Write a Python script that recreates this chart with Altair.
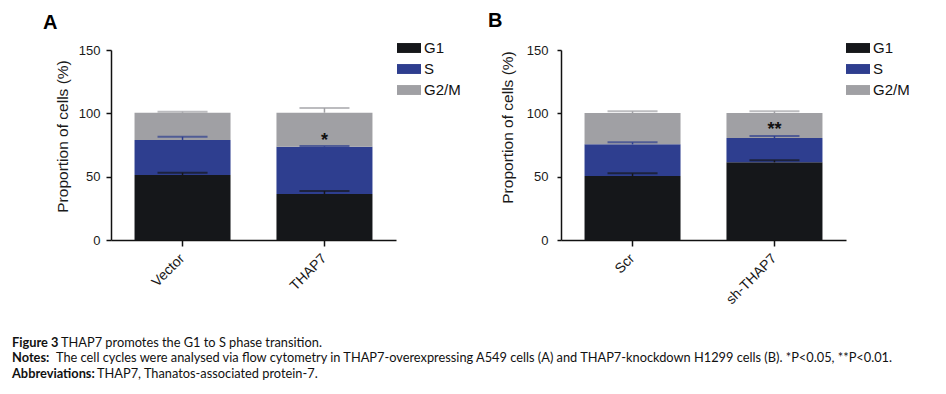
import altair as alt
import pandas as pd

# ---------------- data ----------------
phases = ["G1", "S", "G2/M"]
phase_colors = ["#15171a", "#2e3e8f", "#a0a0a4"]

groups_A = ["Vector", "THAP7"]
g1_A = [51.3, 36.3]
s_A = [27.7, 37.4]
g2m_A = [21.5, 26.8]
err_g1_A = [1.8, 2.4]
err_s_A = [2.5, 0.5]
err_g2m_A = [0.8, 3.7]
star_A = ["", "*"]
star_y_A = [None, 74]

groups_B = ["Scr", "sh-THAP7"]
g1_B = [50.5, 61.3]
s_B = [25.0, 19.2]
g2m_B = [24.7, 19.7]
err_g1_B = [2.1, 1.6]
err_s_B = [1.6, 1.6]
err_g2m_B = [1.4, 1.4]
star_B = ["", "**"]
star_y_B = [None, 83]

y_ticks = [0, 50, 100, 150]
y_title = "Proportion of cells (%)"

caption_bold = ["Figure 3", "Notes:", "Abbreviations:"]
caption_rest = [
    "THAP7 promotes the G1  to S phase transition.",
    "The cell cycles were analysed via flow cytometry in THAP7-overexpressing A549 cells (A) and THAP7-knockdown H1299 cells (B). *P<0.05, **P<0.01.",
    "THAP7, Thanatos-associated protein-7.",
]

FONT = "Liberation Sans"
CAPFONT = "Lato"
W, H = 285, 190


def build_df(groups, g1, s, g2m, e1, es, e2):
    rows = []
    for i, g in enumerate(groups):
        base = 0.0
        for ph, vals, errs in zip(phases, [g1, s, g2m], [e1, es, e2]):
            v = vals[i]
            rows.append({"group": g, "phase": ph, "start": base, "end": base + v,
                         "top": base + v + errs[i], "order": phases.index(ph)})
            base += v
    return pd.DataFrame(rows)


def panel(groups, g1, s, g2m, e1, es, e2, stars, star_ys, letter,
          letter_x, letter_y, legend_x, title_x, title_y, tick_size, label_pad,
          with_caption=False):
    df = build_df(groups, g1, s, g2m, e1, es, e2)
    xenc = alt.X("group:N", sort=groups, title=None,
                 scale=alt.Scale(paddingInner=0.324, paddingOuter=0.166),
                 axis=alt.Axis(labelAngle=-45, labelAlign="right", labelBaseline="middle",
                               labelFontSize=14, labelFont=FONT, labelColor="#1a1a1a",
                               labelPadding=10, tickSize=6, tickWidth=1.5, tickColor="#111",
                               domainColor="#111", domainWidth=1.5, grid=False))
    color_scale = alt.Scale(domain=phases, range=phase_colors)
    bars = alt.Chart(df).mark_bar(size=96).encode(
        x=xenc,
        y=alt.Y("start:Q", scale=alt.Scale(domain=[0, 150], nice=False),
                axis=alt.Axis(values=y_ticks, title=y_title, titleFont=FONT,
                              titleFontSize=15.5, titleFontWeight="normal", titleColor="#1a1a1a",
                              titleX=title_x, titleY=title_y, titleAngle=270,
                              titleBaseline="bottom", titleAlign="center",
                              labelFontSize=13, labelFont=FONT, labelColor="#1a1a1a",
                              labelPadding=label_pad, tickSize=tick_size, tickWidth=1.5,
                              tickColor="#111", domainColor="#111", domainWidth=1.5,
                              grid=False)),
        y2="end:Q",
        color=alt.Color("phase:N", scale=color_scale, sort=phases,
                        legend=alt.Legend(title=None, orient="none", legendX=legend_x,
                                          legendY=-10, symbolType="M-1.5,-0.62H1.5V0.62H-1.5Z",
                                          symbolSize=256, symbolStrokeWidth=0,
                                          labelFontSize=15, labelFont=FONT, labelColor="#111",
                                          labelOffset=7, rowPadding=5, padding=0)),
        order=alt.Order("order:Q"),
    )
    rules = alt.Chart(df).mark_rule(strokeWidth=1.5).encode(
        x=alt.X("group:N", sort=groups), y="end:Q", y2="top:Q",
        color=alt.Color("phase:N", scale=color_scale, legend=None))
    caps = alt.Chart(df).mark_tick(thickness=2, size=50, orient="horizontal").encode(
        x=alt.X("group:N", sort=groups), y="top:Q",
        color=alt.Color("phase:N", scale=color_scale, legend=None))
    sdf = pd.DataFrame({"group": groups, "txt": stars, "y": star_ys}).dropna()
    stars_l = alt.Chart(sdf).mark_text(fontSize=18, fontWeight="bold", font=FONT,
                                       color="#111", baseline="alphabetic").encode(
        x=alt.X("group:N", sort=groups), y="y:Q", text="txt:N")
    ldf = pd.DataFrame({"t": [letter]})
    letter_l = alt.Chart(ldf).mark_text(fontSize=20, fontWeight="bold", font=FONT,
                                        color="#000", align="left", baseline="alphabetic").encode(
        x=alt.value(letter_x), y=alt.value(letter_y), text="t:N")
    layers = [bars, rules, caps, stars_l, letter_l]
    if with_caption:
        anchor = alt.Chart(pd.DataFrame({"a": [0]})).mark_rule(opacity=0, strokeWidth=1).encode(
            x=alt.value(-103), x2=alt.value(-101), y=alt.value(-42))
        layers.append(anchor)
        bold_x = -99
        rest_x = [-50, -55, -14]
        base_y = [297, 312, 328]
        for i in range(3):
            bd = pd.DataFrame({"t": [caption_bold[i]]})
            rd = pd.DataFrame({"t": [caption_rest[i]]})
            layers.append(alt.Chart(bd).mark_text(fontSize=12.8, font=CAPFONT, fontWeight="bold",
                                                  align="left", baseline="alphabetic",
                                                  color="#111").encode(
                x=alt.value(bold_x), y=alt.value(base_y[i]), text="t:N"))
            layers.append(alt.Chart(rd).mark_text(fontSize=12.8, font=CAPFONT,
                                                  align="left", baseline="alphabetic",
                                                  color="#111").encode(
                x=alt.value(rest_x[i]), y=alt.value(base_y[i]), text="t:N"))
    return alt.layer(*layers).properties(width=W, height=H)


A = panel(groups_A, g1_A, s_A, g2m_A, err_g1_A, err_s_A, err_g2m_A, star_A, star_y_A,
          "A", -68, -21, 290, -41, 86, 5, 6, with_caption=True)
B = panel(groups_B, g1_B, s_B, g2m_B, err_g1_B, err_s_B, err_g2m_B, star_B, star_y_B,
          "B", -73, -23, 289, -46, 77, 4, 9)

chart = alt.hconcat(A, B, spacing=165, bounds="flush").resolve_scale(color="independent").properties(
    padding={"left": 0, "top": 0, "right": 5, "bottom": 5}
).configure_view(stroke=None)

chart.save("out.html", embed_options={"renderer": "svg", "actions": False})
